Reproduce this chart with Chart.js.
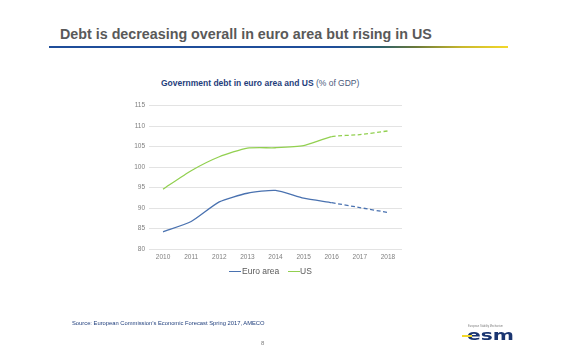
<!DOCTYPE html>
<html>
<head>
<meta charset="utf-8">
<script src="https://cdn.jsdelivr.net/npm/chart.js@4"></script>
<style>
  html, body { margin: 0; padding: 0; background: #ffffff; }
  body { width: 579px; height: 355px; position: relative; overflow: hidden; font-family: "Liberation Sans", Arial, sans-serif; }
  #chart { position: absolute; left: 0; top: 0; }
  .abs { position: absolute; white-space: nowrap; }
  #title { left: 60px; top: 25px; font-size: 14.3px; font-weight: bold; color: #595959; line-height: 18px; }
  #rule { left: 49px; top: 45.5px; width: 459px; height: 2px;
          background: linear-gradient(to right, #1f4e9a 0%, #1f4e9a 62%, #2b5f6e 72%, #6b7a3a 80%, #c9b82e 90%, #f3d82a 100%); }
  #ctitle { left: 161px; top: 77px; font-size: 8.5px; line-height: 12px; color: #1f3e7c; font-weight: bold; }
  #ctitle span { font-weight: normal; color: #4a5a7c; }
  .leg { top: 265px; font-size: 8.5px; line-height: 12px; color: #595959; }
  .sw { position: absolute; top: 270.5px; width: 12px; height: 1.4px; }
  #source { left: 72px; top: 319px; font-size: 5.8px; line-height: 8px; color: #1f3e7c; }
  #page { left: 261px; top: 339px; font-size: 6px; line-height: 8px; color: #7f7f7f; }
  #esmsmall { left: 468px; top: 325px; font-size: 2.6px; line-height: 4px; color: #7f7f7f; }
  #esm { left: 467px; top: 327px; font-size: 14px; line-height: 16px; color: #1a3570; font-weight: bold; transform: scaleX(1.45); transform-origin: left top; font-family: "DejaVu Sans", sans-serif; }
  #esmbar { left: 462px; top: 335px; width: 10px; height: 2px; background: #f3d82a; }
</style>
</head>
<body>
<div id="title" class="abs">Debt is decreasing overall in euro area but rising in US</div>
<div id="rule" class="abs"></div>
<div id="ctitle" class="abs">Government debt in euro area and US <span>(% of GDP)</span></div>
<canvas id="chart" width="579" height="355"></canvas>
<div class="sw" style="left:229px;background:#4a72b0"></div>
<div class="abs leg" style="left:242px">Euro area</div>
<div class="sw" style="left:287.5px;background:#92d050"></div>
<div class="abs leg" style="left:300px">US</div>
<div id="source" class="abs">Source: European Commission’s Economic Forecast Spring 2017, AMECO</div>
<div id="page" class="abs">8</div>
<div id="esmsmall" class="abs">European Stability Mechanism</div>
<div id="esm" class="abs">esm</div>
<div id="esmbar" class="abs"></div>
<script>
const years = ["2010", "2011", "2012", "2013", "2014", "2015", "2016", "2017", "2018"];
const euroArea = [84.2, 86.7, 91.5, 93.6, 94.3, 92.4, 91.3, 90.1, 88.9];
const us = [94.6, 99.1, 102.5, 104.6, 104.7, 105.2, 107.4, 107.9, 108.8];
const forecastFrom = 6; // segments after 2016 are forecasts (dashed)
const yMin = 80, yMax = 115, yStep = 5;

const dashed = ctx => ctx.p0DataIndex >= forecastFrom ? [4, 2.5] : undefined;
const tickFont = { family: "'Liberation Sans', Arial, sans-serif", size: 6.5 };

new Chart(document.getElementById('chart'), {
  type: 'line',
  data: {
    labels: years,
    datasets: [
      { label: 'Euro area', data: euroArea, borderColor: '#4a72b0', borderWidth: 1.3,
        pointRadius: 0, tension: 0.2, segment: { borderDash: dashed } },
      { label: 'US', data: us, borderColor: '#92d050', borderWidth: 1.3,
        pointRadius: 0, tension: 0.2, segment: { borderDash: dashed } }
    ]
  },
  options: {
    responsive: false,
    animation: false,
    events: [],
    layout: { padding: { left: 0, top: 105.5, right: 177, bottom: 86 } },
    plugins: { legend: { display: false }, title: { display: false }, tooltip: { enabled: false } },
    scales: {
      x: {
        offset: true,
        grid: { display: false, drawTicks: false },
        border: { display: false },
        ticks: { color: '#7f7f7f', font: tickFont, padding: 4, maxRotation: 0 },
        afterFit: s => { s.height = 20; }
      },
      y: {
        min: yMin, max: yMax,
        grid: { color: '#d9d9d9', lineWidth: 0.75, drawTicks: false },
        border: { display: false },
        ticks: { stepSize: yStep, color: '#7f7f7f', font: tickFont, padding: 4 },
        afterFit: s => { s.width = 149; }
      }
    }
  }
});
</script>
</body>
</html>
